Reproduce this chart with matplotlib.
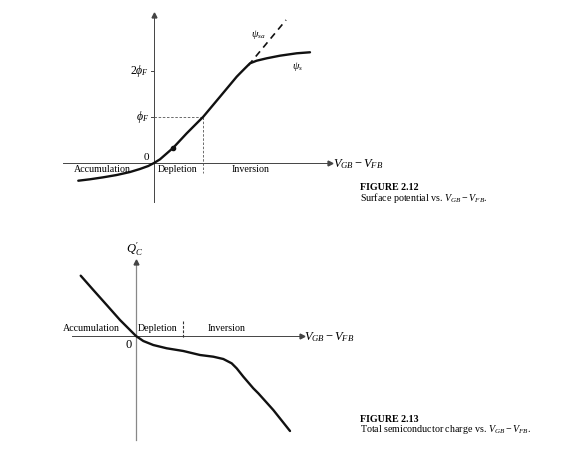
import matplotlib
matplotlib.use("Agg")
import matplotlib.pyplot as plt
import numpy as np

plt.rcParams['font.family'] = ['Liberation Serif', 'DejaVu Serif']
plt.rcParams['mathtext.fontset'] = 'custom'
plt.rcParams['mathtext.rm'] = 'Liberation Serif'
plt.rcParams['mathtext.it'] = 'Liberation Serif:italic'
plt.rcParams['mathtext.bf'] = 'Liberation Serif:bold'

# ---- Figure 2.12 data (units of phi_F) ----
psi_s_x = [-1.646, -1.391, -1.102, -0.811, -0.522, -0.304, -0.124, 0.0, 0.130, 0.420,
           0.711, 1.072, 1.435, 1.798, 1.870, 1.978, 2.087, 2.233, 2.450, 2.739,
           3.102, 3.391]
psi_s_y = [-0.385, -0.354, -0.311, -0.261, -0.196, -0.130, -0.065, 0.0, 0.080, 0.333,
           0.645, 1.007, 1.441, 1.876, 1.950, 2.059, 2.167, 2.224, 2.276, 2.333,
           2.385, 2.407]
psi_sa_x = [2.050, 2.870]
psi_sa_y = [2.120, 3.109]
phiF_level = 1.0
phiF_x = 1.07
top_ticks = [2.0, 1.0]
top_ticklabels = [r'$2\phi_F$', r'$\phi_F$']
top_regions = ['Accumulation', 'Depletion', 'Inversion']
top_region_x = [-1.13, 0.52, 2.11]
marker_pt = (0.42, 0.333)

# ---- Figure 2.13 data ----
qc_x = [-1.202, -0.928, -0.637, -0.348, -0.130, 0.0, 0.159, 0.376, 0.667, 1.028,
        1.391, 1.681, 1.898, 2.080, 2.189, 2.333, 2.550, 2.659, 2.985, 3.348]
qc_y = [1.311, 1.0, 0.674, 0.348, 0.130, 0.0, -0.109, -0.196, -0.267, -0.326,
        -0.413, -0.450, -0.500, -0.594, -0.703, -0.884, -1.137, -1.246, -1.609, -2.065]
bot_regions = ['Accumulation', 'Depletion', 'Inversion']
bot_region_x = [-0.96, 0.48, 1.98]
depl_inv_x = 1.02

W, H = 587, 467
S = 46.0  # px per unit
fig = plt.figure(figsize=(W / 100, H / 100), dpi=100)


def make_axes(box, origin):
    l, r, t, b = box
    ox, oy = origin
    ax = fig.add_axes([l / W, (H - b) / H, (r - l) / W, (b - t) / H])
    ax.set_xlim((l - ox) / S, (r - ox) / S)
    ax.set_ylim((oy - b) / S, (oy - t) / S)
    ax.axis('off')
    return ax


axis_col = '#444444'
curve_col = '#111111'
fs = 7.2

# ---------------- Top panel ----------------
ax1 = make_axes((40, 400, 0, 215), (154, 163))
x_ax = (-1.98, 3.83)
y_ax = (-0.85, 3.22)
ax1.plot(x_ax, [0, 0], color=axis_col, lw=0.7)
ax1.plot([0, 0], y_ax, color=axis_col, lw=0.7)
ax1.plot([x_ax[1]], [0], marker='>', color=axis_col, ms=3.5)
ax1.plot([0], [y_ax[1]], marker='^', color=axis_col, ms=3.5)
for v, lab in zip(top_ticks, top_ticklabels):
    ax1.plot([-0.07, 0], [v, v], color=axis_col, lw=0.7)
    ax1.text(-0.1, v, lab, ha='right', va='center', fontsize=8.5)
ax1.text(-0.1, 0.13, '0', ha='right', va='center', fontsize=8)
ax1.plot([0, phiF_x], [phiF_level, phiF_level], ls=(0, (3, 2)), color='#555555', lw=0.6)
ax1.plot([phiF_x, phiF_x], [phiF_level, -0.22], ls=(0, (3, 2)), color='#555555', lw=0.6)
ax1.plot(psi_s_x, psi_s_y, color=curve_col, lw=1.7, solid_capstyle='round',
         solid_joinstyle='round')
ax1.plot(psi_sa_x, psi_sa_y, color=curve_col, lw=1.2, ls=(0, (4, 3)))
ax1.plot([marker_pt[0]], [marker_pt[1]], 'o', color=curve_col, ms=3)
ax1.text(2.26, 2.80, r'$\psi_{sa}$', ha='center', va='center', fontsize=7.5)
ax1.text(3.11, 2.09, r'$\psi_s$', ha='center', va='center', fontsize=7.5)
for lab, xx in zip(top_regions, top_region_x):
    ax1.text(xx, -0.15, lab, ha='center', va='center', fontsize=fs)
ax1.text(3.90, -0.02, r'$V_{GB} - V_{FB}$', ha='left', va='center', fontsize=9)

# ---------------- Bottom panel ----------------
ax2 = make_axes((40, 400, 235, 460), (136, 336))
x_ax2 = (-1.39, 3.61)
y_ax2 = (-2.26, 1.61)
ax2.plot(x_ax2, [0, 0], color=axis_col, lw=0.7)
ax2.plot([0, 0], y_ax2, color='#888888', lw=0.9)
ax2.plot([x_ax2[1]], [0], marker='>', color=axis_col, ms=3.5)
ax2.plot([0], [y_ax2[1]], marker='^', color=axis_col, ms=3.5)
ax2.text(-0.04, 1.88, r"$Q_C'$", ha='center', va='center', fontsize=9)
ax2.text(-0.15, -0.20, '0', ha='center', va='center', fontsize=9)
ax2.plot([depl_inv_x, depl_inv_x], [0.32, -0.05], ls=(0, (2.5, 1.5)), color='#333333', lw=0.8)
ax2.plot(qc_x, qc_y, color=curve_col, lw=1.7, solid_capstyle='round',
         solid_joinstyle='round')
for lab, xx in zip(bot_regions, bot_region_x):
    ax2.text(xx, 0.17, lab, ha='center', va='center', fontsize=fs)
ax2.text(3.66, -0.02, r'$V_{GB} - V_{FB}$', ha='left', va='center', fontsize=9)

# ---------------- Captions ----------------
fig.text(360 / W, 1 - 187 / H, 'FIGURE 2.12', fontsize=7.2, fontweight='bold', ha='left', va='center')
fig.text(360 / W, 1 - 198 / H, r'Surface potential vs. $V_{GB} - V_{FB}$.', fontsize=7.2, ha='left', va='center')
fig.text(360 / W, 1 - 419 / H, 'FIGURE 2.13', fontsize=7.2, fontweight='bold', ha='left', va='center')
fig.text(360 / W, 1 - 430 / H, r'Total semiconductor charge vs. $V_{GB} - V_{FB}$.', fontsize=7.2, ha='left', va='center')

fig.savefig('out.png', dpi=100)
